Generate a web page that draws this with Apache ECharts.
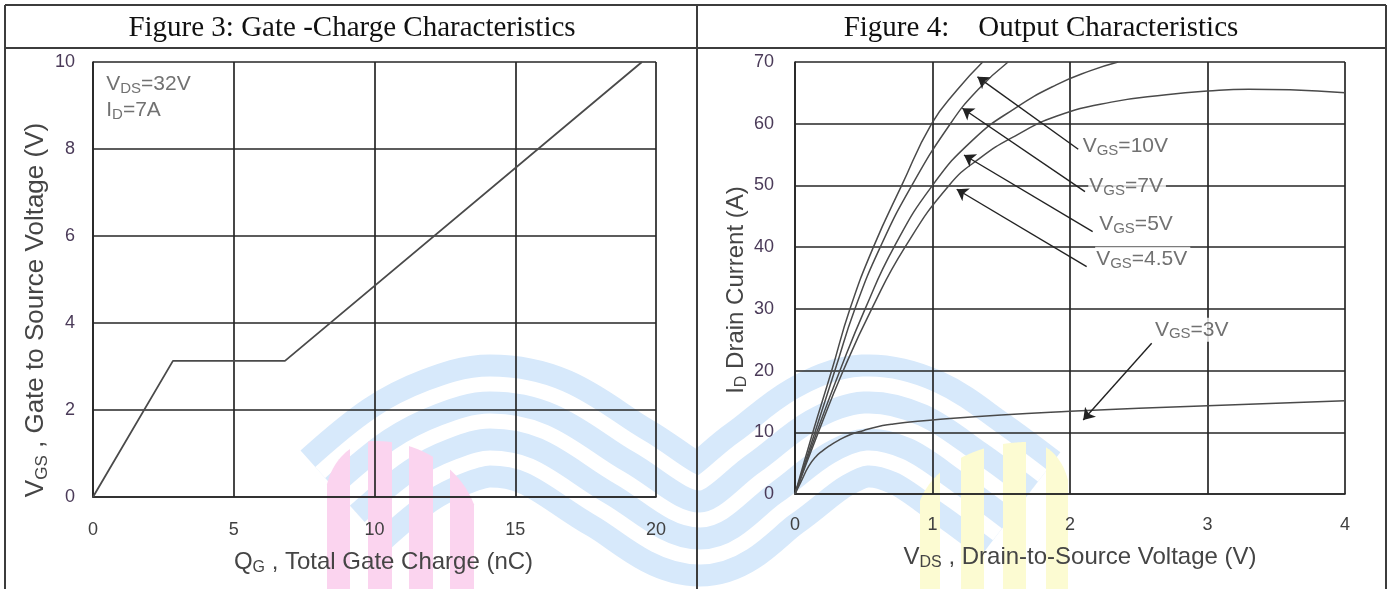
<!DOCTYPE html>
<html>
<head>
<meta charset="utf-8">
<script src="https://cdn.jsdelivr.net/npm/echarts@6/dist/echarts.min.js"></script>
<style>
  html, body { margin: 0; padding: 0; background: #fff; }
  #chart { width: 1391px; height: 589px; }
</style>
</head>
<body>
<div id="chart"></div>
<script>
// ---- Figure 3: gate charge ----
const gateXTicks = [0, 5, 10, 15, 20];          // Q_G, nC
const gateYTicks = [0, 2, 4, 6, 8, 10];         // V_GS, V
const gateCharge = [0, 2.84, 6.82, 19.5];       // nC
const gateVoltage = [0, 3.13, 3.13, 10];        // V

// ---- Figure 4: output characteristics ----
const outXTicks = [0, 1, 2, 3, 4];              // V_DS, V
const outYTicks = [0, 10, 20, 30, 40, 50, 60, 70]; // I_D, A

const vds10 = [0, 0.13, 0.267, 0.40, 0.57, 0.776, 0.994, 1.18, 1.365];
const id10  = [0, 10, 20, 30, 40, 50, 60, 65.5, 70];
const vds7  = [0, 0.145, 0.29, 0.436, 0.62, 0.85, 1.13, 1.33, 1.55];
const id7   = [0, 10, 20, 30, 40, 50, 60, 65.5, 70];
const vds5  = [0, 0.158, 0.327, 0.51, 0.72, 1.0, 1.3, 1.6, 1.9, 2.15, 2.35];
const id5   = [0, 10, 20, 30, 40, 50, 57.5, 62.5, 66.3, 68.6, 70];
const vds45 = [0, 0.17, 0.351, 0.558, 0.8, 1.12, 1.35, 1.6, 1.9, 2.3, 2.7, 3.0, 3.3, 3.6, 4.0];
const id45  = [0, 10, 20, 30, 40, 50, 54.5, 58, 61.2, 63.5, 64.7, 65.3, 65.6, 65.5, 65.0];
const vds3  = [0, 0.05, 0.1, 0.15, 0.2, 0.25, 0.3, 0.4, 0.5, 0.6, 0.7, 0.8, 1.0, 1.5, 2.0, 2.5, 3.0, 3.5, 4.0];
const id3   = [0, 2.3, 4.5, 6.0, 7.0, 7.8, 8.5, 9.6, 10.3, 10.9, 11.3, 11.6, 12.0, 12.8, 13.4, 13.9, 14.3, 14.7, 15.1];

// curve annotations: label text, label anchor (V, A), arrow tail, arrow tip
const curveNames  = ['10V', '7V', '5V', '4.5V', '3V'];
const labelAnchor = [[2.085, 56.4], [2.133, 49.9], [2.205, 43.75], [2.183, 38.1], [2.61, 26.6]];
const arrowTail   = [[2.06, 55.86], [2.109, 49.0], [2.165, 42.5], [2.121, 36.83], [2.594, 24.42]];
const arrowTip    = [[1.327, 67.6], [1.217, 62.5], [1.229, 54.93], [1.176, 49.38], [2.096, 12.0]];

// test conditions for figure 3
const conditionLines = ['{m|V}{s|DS}{m|=32V}', '{m|I}{s|D}{m|=7A}'];
const conditionAnchor = [0.47, 9.2];

const pair = (xs, ys) => xs.map((x, i) => [x, ys[i]]);

const INK = '#262626';
const CURVE = '#4a4a4a';
const TXT = '#454545';
const TICK = '#4a3a58';
const sans = "'Liberation Sans', Arial, sans-serif";

const nameRich = (size) => ({
  m: { fontSize: size, fontFamily: sans, color: TXT, lineHeight: size + 4 },
  s: { fontSize: Math.round(size * 0.67), fontFamily: sans, color: TXT, lineHeight: Math.round(size * 0.67),
       verticalAlign: 'bottom', padding: [6, 0, 0, 0] }
});

function axis(gi, ticks, margin, nameTxt, nameSize, nameGap, namePad, isY) {
  return {
    type: 'value', gridIndex: gi,
    min: ticks[0], max: ticks[ticks.length - 1], interval: ticks[1] - ticks[0],
    axisLine: { show: true, onZero: false, lineStyle: { color: INK, width: 1.7 } },
    axisTick: { show: false },
    splitLine: { show: true, lineStyle: { color: INK, width: 1.7 } },
    axisLabel: { margin: margin, fontSize: 18, fontFamily: sans, color: isY ? TICK : '#404040' },
    name: nameTxt, nameLocation: 'middle', nameGap: nameGap,
    nameRotate: isY ? 90 : 0,
    nameTextStyle: { rich: nameRich(nameSize), fontSize: nameSize, fontFamily: sans, color: TXT, padding: namePad }
  };
}

// ---- faint logo watermark behind the plots ----
function domeBars(bars, peakX, topY, rL, hL, rR, hR, color) {
  const topAt = (x) => {
    const left = x < peakX;
    const r = left ? rL : rR, h = left ? hL : hR;
    const t = Math.min(1, Math.abs(x - peakX) / r);
    return topY + h * (1 - Math.sqrt(1 - t * t));
  };
  return bars.map(([a, b]) => {
    const pts = [];
    for (let x = a; x <= b; x += 1) pts.push([x, topAt(x)]);
    pts.push([b, 600], [a, 600]);
    return { type: 'polygon', z: -20, silent: true, shape: { points: pts }, style: { fill: color } };
  });
}
const ribbon = [[345, 500], [400, 455], [445, 432], [490, 421], [545, 432], [620, 478], [700, 520],
                [765, 478], [820, 437], [865, 421], [915, 432], [970, 468], [1020, 505]];
const ribbonStrokes = [[133, '#d7e9fb'], [89, '#ffffff'], [59, '#d7e9fb'], [15, '#ffffff']].map(([w, c]) => ({
  type: 'polyline', z: -30, silent: true,
  shape: { points: ribbon, smooth: 0.35 },
  style: { stroke: c, lineWidth: w, fill: null, lineJoin: 'round', lineCap: 'butt' }
}));
const pinkBars = domeBars([[327, 350], [368, 392], [409, 433], [450, 474]], 375, 441, 50, 60, 105, 95, '#fbd4ef');
const yellowBars = domeBars([[920, 940], [961, 984], [1003, 1026], [1046, 1068]], 1028, 442, 112, 80, 42, 55, '#fcfbd2');

// ---- table frame and headings ----
const frame = [
  { type: 'line', shape: { x1: 5, y1: 5, x2: 1386, y2: 5 } },
  { type: 'line', shape: { x1: 5, y1: 48, x2: 1386, y2: 48 } },
  { type: 'line', shape: { x1: 5, y1: 5, x2: 5, y2: 600 } },
  { type: 'line', shape: { x1: 697, y1: 5, x2: 697, y2: 600 } },
  { type: 'line', shape: { x1: 1386, y1: 5, x2: 1386, y2: 600 } }
].map(e => Object.assign(e, { z: 100, silent: true, style: { stroke: '#3c3c3c', lineWidth: 2 } }));
const headings = [
  ['Figure 3: Gate -Charge Characteristics', 352],
  ['Figure 4:    Output Characteristics', 1041]
].map(([t, x]) => ({
  type: 'text', z: 100, silent: true, x: x, y: 28,
  style: { text: t, font: "29px 'Liberation Serif', 'Times New Roman', serif", fill: '#111',
           textAlign: 'center', textVerticalAlign: 'middle' }
}));

const labelRich = {
  m: { fontSize: 21, fontFamily: sans, color: '#4d4d4d', lineHeight: 24 },
  s: { fontSize: 15, fontFamily: sans, color: '#4d4d4d', lineHeight: 15, verticalAlign: 'bottom', padding: [5, 0, 0, 0] }
};

const option = {
  animation: false,
  backgroundColor: '#fff',
  grid: [
    { left: 93, top: 62, width: 563, height: 435 },
    { left: 795, top: 62, width: 550, height: 432 }
  ],
  xAxis: [
    axis(0, gateXTicks, 24, '{m|Q}{s|G}{m| , Total Gate Charge (nC)}', 24, 51, [0, 0, 0, 18], false),
    axis(1, outXTicks, 22, '{m|V}{s|DS}{m| , Drain-to-Source Voltage (V)}', 24, 49, [0, 0, 0, 20], false)
  ],
  yAxis: [
    axis(0, gateYTicks, 18, '{m|V}{s|GS}{m| , Gate to Source Voltage (V)}', 26, 37, [0, 61, 0, 0], true),
    axis(1, outYTicks, 21, '{m|I}{s|D}{m| Drain Current (A)}', 24, 43, [0, 24, 0, 0], true)
  ],
  graphic: [...ribbonStrokes, ...pinkBars, ...yellowBars, ...frame, ...headings],
  series: [
    {
      type: 'line', xAxisIndex: 0, yAxisIndex: 0, data: pair(gateCharge, gateVoltage),
      symbol: 'none', lineStyle: { color: CURVE, width: 1.8 }, silent: true, z: 5
    },
    {
      type: 'scatter', xAxisIndex: 0, yAxisIndex: 0, symbolSize: 0, silent: true, z: 6,
      data: [{
        value: conditionAnchor,
        label: {
          show: true, position: 'right', distance: 0,
          formatter: conditionLines.join('\n'),
          rich: {
            m: { fontSize: 21, fontFamily: sans, color: '#4d4d4d', lineHeight: 26 },
            s: { fontSize: 15, fontFamily: sans, color: '#4d4d4d', lineHeight: 15, verticalAlign: 'bottom', padding: [7, 0, 0, 0] }
          }
        }
      }]
    },
    ...[[vds10, id10], [vds7, id7], [vds5, id5], [vds45, id45], [vds3, id3]].map(([xs, ys]) => ({
      type: 'line', xAxisIndex: 1, yAxisIndex: 1, data: pair(xs, ys),
      symbol: 'none', smooth: 0.5,
      lineStyle: { color: CURVE, width: 1.5 }, silent: true, z: 5
    })),
    {
      type: 'lines', coordinateSystem: 'cartesian2d', xAxisIndex: 1, yAxisIndex: 1, silent: true, z: 6,
      symbol: ['none', 'arrow'], symbolSize: [0, 11],
      lineStyle: { color: '#222', width: 1.4, opacity: 1, curveness: 0 },
      data: arrowTail.map((t, i) => ({ coords: [t, arrowTip[i]] }))
    },
    {
      type: 'scatter', xAxisIndex: 1, yAxisIndex: 1, symbolSize: 0, silent: true, z: 7,
      data: labelAnchor.map((p, i) => ({
        value: p,
        label: {
          show: true, position: 'right', distance: 0,
          formatter: '{m|V}{s|GS}{m|=' + curveNames[i] + '}',
          backgroundColor: '#fff', padding: [0, 3, 0, 1],
          rich: labelRich
        }
      }))
    }
  ]
};

const chart = echarts.init(document.getElementById('chart'));
chart.setOption(option);
</script>
</body>
</html>
